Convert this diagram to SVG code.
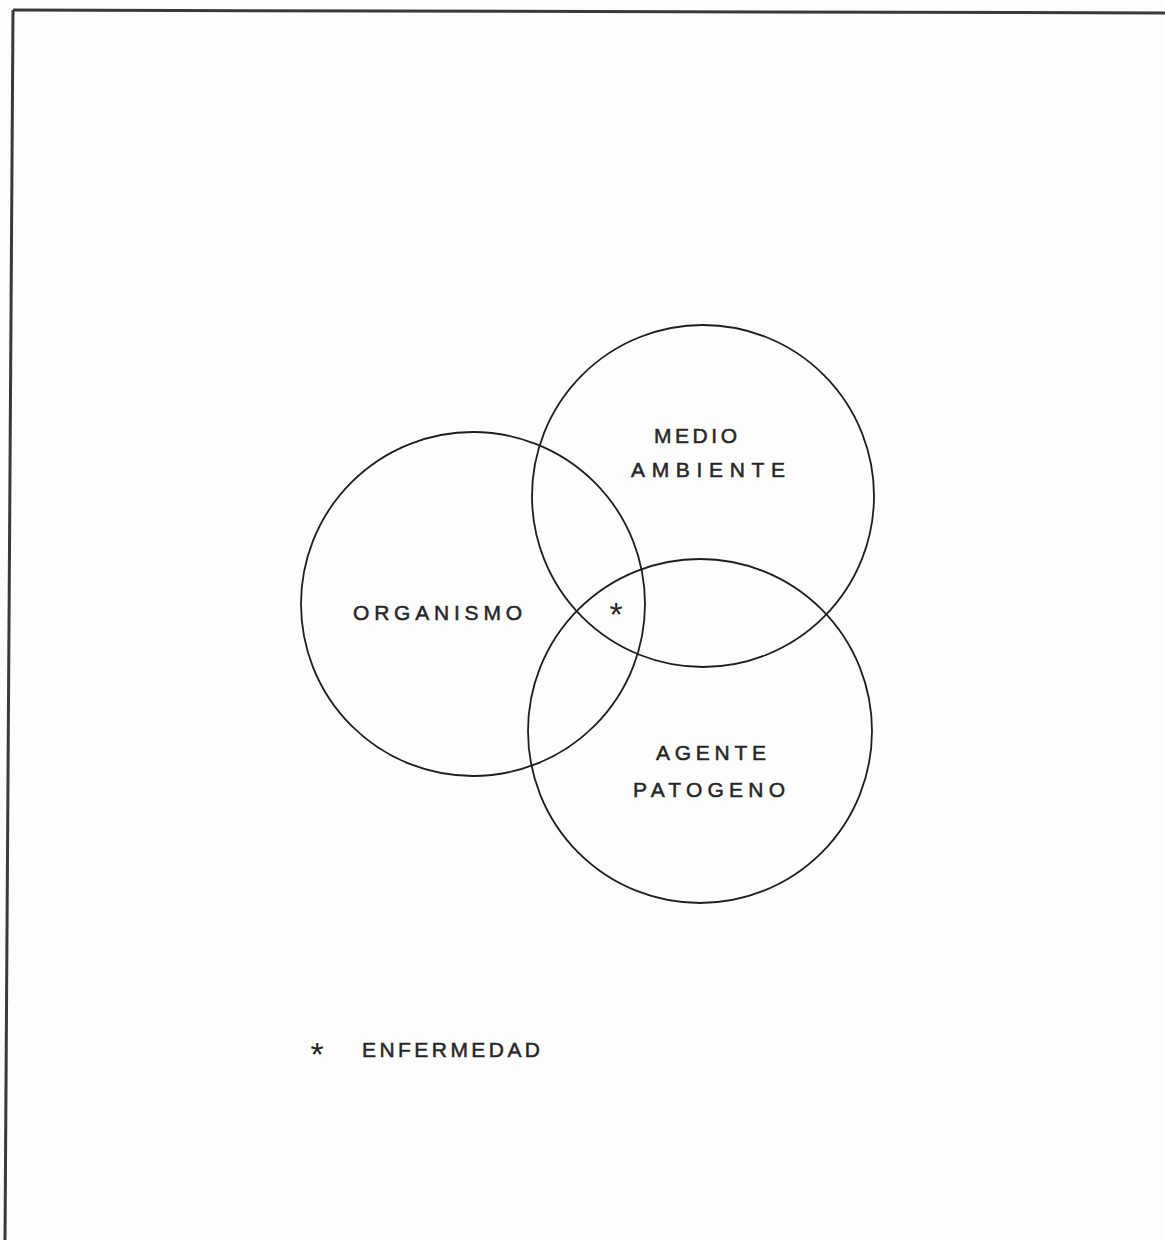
<svg xmlns="http://www.w3.org/2000/svg" width="1165" height="1240" viewBox="0 0 1165 1240">
<style>
.c{fill:none;stroke:#1e1e1e;stroke-width:1.8}
.t{font-family:"Liberation Sans",Arial,sans-serif;font-size:21px;fill:#262626;stroke:#262626;stroke-width:0.5}
.s{font-family:"Liberation Sans",Arial,sans-serif;font-size:34px;fill:#262626;text-anchor:middle}
.b{fill:none;stroke:#3a3a3a;stroke-width:3}
</style>
<rect width="1165" height="1240" fill="#fdfdfd"/>
<g id="border">
<path class="b" d="M13,10 L1165,13"/>
<path class="b" d="M13,10 L5,1240"/>
</g>
<g id="organismo">
<circle class="c" cx="473" cy="604" r="172"/>
<text class="t" x="353" y="620" textLength="169" lengthAdjust="spacing">ORGANISMO</text>
</g>
<g id="medio-ambiente">
<circle class="c" cx="703" cy="496" r="171"/>
<text class="t" x="654" y="443" textLength="83" lengthAdjust="spacing">MEDIO</text>
<text class="t" x="631" y="477" textLength="154" lengthAdjust="spacing">AMBIENTE</text>
</g>
<g id="agente-patogeno">
<circle class="c" cx="700" cy="731" r="172"/>
<text class="t" x="656" y="760" textLength="110" lengthAdjust="spacing">AGENTE</text>
<text class="t" x="633" y="797" textLength="152" lengthAdjust="spacing">PATOGENO</text>
</g>
<g id="enfermedad-mark">
<text class="s" x="616" y="626">*</text>
</g>
<g id="legend">
<text class="s" x="317" y="1066">*</text>
<text class="t" x="362" y="1057" textLength="178" lengthAdjust="spacing">ENFERMEDAD</text>
</g>
<g id="connectors"/>
</svg>
